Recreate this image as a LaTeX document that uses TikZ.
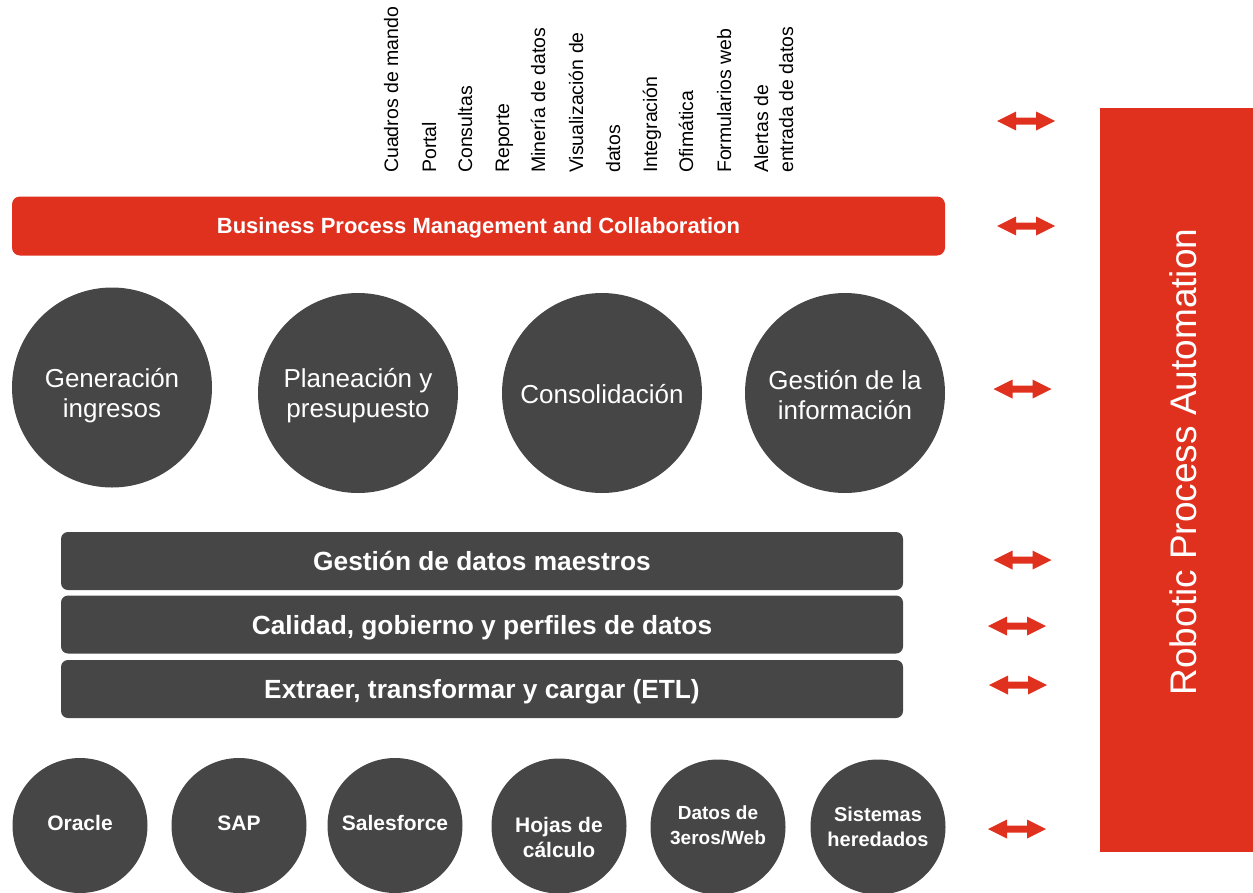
\documentclass[tikz,border=0pt]{standalone}
\usepackage{fontspec}
\setmainfont{Liberation Sans}
\definecolor{pwcred}{HTML}{E0301E}
\definecolor{slate}{HTML}{464646}

\tikzset{
  bigdisc/.style={circle, fill=slate, minimum size=200pt, inner sep=0pt},
  bigtext/.style={text=white, align=center, inner sep=0pt, font=\fontsize{26}{30}\selectfont},
  smalldisc/.style={circle, fill=slate, minimum size=135pt, inner sep=0pt},
  smalltext/.style={text=white, align=center, inner sep=0pt, font=\bfseries\fontsize{21}{25}\selectfont},
  band/.style={rounded corners=7pt, fill=slate, text=white, minimum width=842pt,
    minimum height=58pt, inner sep=0pt, text depth=0pt, font=\bfseries\fontsize{26.3}{30}\selectfont},
  toplabel/.style={rotate=90, anchor=base west, inner sep=0pt, font=\fontsize{19.5}{24}\selectfont},
  dblarrow/.pic={
    \fill[pwcred] (-29,0) -- (-10,-9.5) -- (-10,-3.5) -- (10,-3.5) -- (10,-9.5) -- (29,0)
      -- (10,9.5) -- (10,3.5) -- (-10,3.5) -- (-10,9.5) -- cycle;
  }
}

\begin{document}
\begin{tikzpicture}[x=1pt, y=-1pt]
\useasboundingbox (0,0) rectangle (1253,892);
\clip (0,0) rectangle (1253,892);

% tool labels above the process bar
\node[toplabel] (l1) at (398,173) {Cuadros de mando};
\node[toplabel] (l2) at (436,173) {Portal};
\node[toplabel] (l3) at (472,173) {Consultas};
\node[toplabel] (l4) at (509,173) {Reporte};
\node[toplabel] (l5) at (545,173) {Minería de datos};
\node[toplabel] (l6a) at (583,173) {Visualización de};
\node[toplabel] (l6b) at (620,173) {datos};
\node[toplabel] (l7) at (657,173) {Integración};
\node[toplabel] (l8) at (693,173) {Ofimática};
\node[toplabel] (l9) at (731,173) {Formularios web};
\node[toplabel] (l10a) at (768,173) {Alertas de};
\node[toplabel] (l10b) at (793,173) {entrada de datos};

% business process bar
\node[rounded corners=8pt, fill=pwcred, text=white, minimum width=933pt, minimum height=59pt,
  inner sep=0pt, text depth=0pt, font=\bfseries\fontsize{22}{26}\selectfont] (bpm) at (478.5,226)
  {Business Process Management and Collaboration};

% core processes
\node[bigdisc] (gen) at (112,387.5) {};
\node[bigtext] (gentext) at (112,396) {Generación\\ingresos};
\node[bigdisc] (plan) at (358,393) {};
\node[bigtext] (plantext) at (358,396) {Planeación y\\presupuesto};
\node[bigdisc] (cons) at (602,393) {};
\node[bigtext] (constext) at (602,394) {Consolidación};
\node[bigdisc] (info) at (845,393) {};
\node[bigtext] (infotext) at (845,395) {Gestión de la\\información};

% data layers
\node[band] (mdm) at (482,561) {Gestión de datos maestros};
\node[band] (dq) at (482,624.5) {Calidad, gobierno y perfiles de datos};
\node[band] (etl) at (482,689) {Extraer, transformar y cargar (ETL)};

% data sources
\node[smalldisc] (ora) at (80,825.5) {};
\node[smalltext] (oratext) at (80,823) {Oracle};
\node[smalldisc] (sap) at (239,825.5) {};
\node[smalltext] (saptext) at (239,823) {SAP};
\node[smalldisc] (sf) at (395,825.5) {};
\node[smalltext] (sftext) at (395,823) {Salesforce};
\node[smalldisc] (hoj) at (559,826) {};
\node[smalltext] (hojtext) at (559,837) {Hojas de\\cálculo};
\node[smalldisc] (dat) at (718,827) {};
\node[smalltext, font=\bfseries\fontsize{19}{25}\selectfont] (dattext) at (718,825) {Datos de\\3eros/Web};
\node[smalldisc] (sis) at (878,827) {};
\node[smalltext, font=\bfseries\fontsize{20}{24.5}\selectfont] (sistext) at (878,827) {Sistemas\\heredados};

% automation column
\fill[pwcred] (1100,108) rectangle (1253,852);
\node[rotate=90, text=white, inner sep=0pt, font=\fontsize{37}{44}\selectfont] (rpa) at (1183,462)
  {Robotic Process Automation};

% links to the automation column
\pic (a1) at (1026,121) {dblarrow};
\pic (a2) at (1026,226) {dblarrow};
\pic (a3) at (1022.5,389) {dblarrow};
\pic (a4) at (1022.5,560) {dblarrow};
\pic (a5) at (1017,626) {dblarrow};
\pic (a6) at (1018,685) {dblarrow};
\pic (a7) at (1017,829) {dblarrow};
\end{tikzpicture}
\end{document}
